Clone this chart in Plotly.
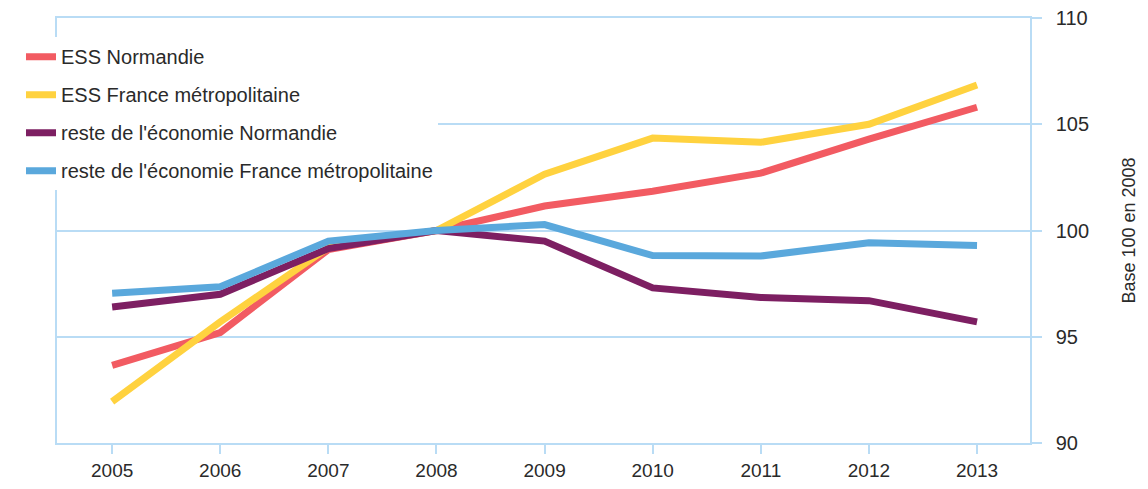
import plotly.graph_objects as go

years = [2005, 2006, 2007, 2008, 2009, 2010, 2011, 2012, 2013]
ess_normandie = [93.65, 95.2, 99.1, 100.0, 101.15, 101.85, 102.7, 104.3, 105.8]
ess_france = [91.95, 95.7, 99.2, 100.0, 102.65, 104.35, 104.15, 105.0, 106.85]
reste_normandie = [96.4, 97.0, 99.15, 100.0, 99.5, 97.3, 96.85, 96.7, 95.7]
reste_france = [97.05, 97.35, 99.5, 100.0, 100.28, 98.82, 98.8, 99.42, 99.3]

names = ["ESS Normandie", "ESS France métropolitaine",
         "reste de l'économie Normandie", "reste de l'économie France métropolitaine"]
colors = ["#F25B62", "#FFD23F", "#7D1F62", "#5AA8DC"]
series = [ess_normandie, ess_france, reste_normandie, reste_france]

y_ticks = [90, 95, 100, 105, 110]

grid = "#B9DCF5"
font_family = "Liberation Sans, Arial, Helvetica, sans-serif"

fig = go.Figure()
for i, (n, c, s) in enumerate(zip(names, colors, series)):
    fig.add_trace(go.Scatter(x=years, y=s, mode="lines", name=n,
                             legendgroup=f"g{i}",
                             line=dict(color=c, width=7)))

fig.update_layout(
    width=1148, height=489,
    margin=dict(l=49, r=126, t=10, b=54, autoexpand=False),
    paper_bgcolor="white", plot_bgcolor="white",
    font=dict(family=font_family, size=19, color="#2a2a2a"),
    showlegend=True,
    legend=dict(x=-0.037, y=0.955, xref="paper", yref="paper",
                xanchor="left", yanchor="top",
                bgcolor="white", borderwidth=0,
                traceorder="grouped", tracegroupgap=9,
                font=dict(size=20, color="#2a2a2a"),
                itemwidth=30),
    xaxis=dict(range=[2004.49, 2013.49], tickmode="array", tickvals=years,
               ticktext=[str(y) for y in years],
               showgrid=False, zeroline=False,
               showline=True, linecolor=grid, linewidth=1.5, mirror=True,
               ticks="outside", ticklen=9, tickcolor=grid, tickwidth=1.5,
               tickfont=dict(size=19)),
    yaxis=dict(range=[90, 110], side="right", tickvals=y_ticks,
               showgrid=True, gridcolor=grid, gridwidth=1.5, zeroline=False,
               showline=True, linecolor=grid, linewidth=1.5, mirror=True,
               ticks="outside", ticklen=10, tickcolor=grid, tickwidth=1.5,
               ticklabelstandoff=10, ticklabeloverflow="allow",
               tickfont=dict(size=20),
               title=dict(text="Base 100 en 2008", font=dict(size=18), standoff=34)),
)

fig.write_html("out.html")
